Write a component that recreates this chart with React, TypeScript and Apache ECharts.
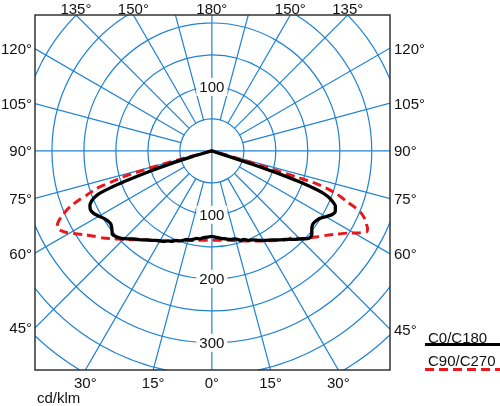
import { useEffect, useRef } from 'react';
import * as echarts from 'echarts';

// ---- grid definition (cd/klm and degrees) ----
const circleRadii = [50, 100, 150, 200, 250, 300, 350, 400, 450];
const spokeAngles = [0, 15, 30, 45, 60, 75, 90, 105, 120, 135, 150, 165, 180, 195, 210, 225, 240, 255, 270, 285, 300, 315, 330, 345];
const upperRadialLabels = [100];
const lowerRadialLabels = [100, 200, 300];
const leftAngleLabels = [120, 105, 90, 75, 60, 45];
const rightAngleLabels = [120, 105, 90, 75, 60, 45];
const topAngleLabelsLeft = [135, 150];
const topAngleLabelsCenter = [180];
const topAngleLabelsRight = [150, 135];
const bottomAngleLabelsLeft = [30, 15];
const bottomAngleLabelsCenter = [0];
const bottomAngleLabelsRight = [15, 30];

// ---- photometric data (gamma in degrees, intensity in cd/klm) ----
const c180Gamma = [0, 2, 4, 6, 8, 10, 12, 14, 16, 18, 20, 22, 24, 26, 28, 30, 32, 34, 36, 38, 40, 42, 44, 46, 48, 50, 52, 54, 56, 58, 60, 62, 64, 66, 67.5, 68.5, 69.3, 70, 70.7, 71.4, 72.2, 73, 74, 75, 76];
const c180Intensity = [133.6, 134.5, 135.5, 136.7, 138.8, 138.8, 141.4, 143.3, 143.9, 147, 149.7, 150.8, 154.8, 156.5, 160.2, 162.4, 164.9, 168.7, 171.9, 176.5, 180.5, 185, 191.1, 196.8, 200.8, 203, 198.3, 195, 196, 199, 204, 208.8, 211, 208.7, 203, 196.5, 187, 170, 145, 118, 88, 60, 32, 8, 0];

const c0Gamma = [0, 3, 6, 9, 12, 15, 18, 20, 22, 25, 28, 31, 34, 37, 40, 43, 46, 48, 50, 52, 54, 56, 58, 60, 62, 64, 66, 67.5, 68.5, 69.3, 70, 70.6, 71.1, 71.5, 71.8, 72.1, 72.4, 72.6];
const c0Intensity = [133.6, 135.3, 137.5, 139.2, 141.4, 142.3, 147, 147.2, 150.8, 153.4, 158.4, 163.1, 167.7, 174.1, 180.5, 189.1, 197.9, 204.3, 204, 198.3, 195, 196, 199, 205.7, 212.4, 214.7, 211.3, 203, 194.8, 185.3, 168, 145, 118, 90, 60, 30, 5, 0];

const c90Gamma = [0, 10, 20, 30, 36, 40, 42.6, 46, 50.1, 53.5, 56.6, 58.8, 60.7, 62.4, 63.5, 64.5, 66, 67.5, 68.5, 69.3, 70.3, 71.2, 72, 72.6, 72.9, 73.1, 73.4, 73.7, 74];
const c90Intensity = [139.8, 142, 149.7, 162.4, 172.9, 181.5, 185, 197, 210, 222, 236, 248, 262, 273, 272, 268, 262, 252, 240, 227, 215, 203, 188, 170, 140, 104, 70, 35, 0];

const c270Gamma = [0, 10, 20, 30, 38, 43.7, 48, 51.4, 54.5, 57, 59, 60.5, 62.5, 64, 65.3, 67, 68.5, 69.7, 70.6, 71.5, 72.2, 72.8, 73.8, 74.4, 74.8, 75.3, 76];
const c270Intensity = [139.8, 142, 149.5, 162, 176, 192, 205, 218, 229, 240, 251, 260, 268, 269, 264, 252, 238, 222, 207, 195, 184, 165, 140, 110, 80, 45, 0];

const GRID_COLOR = '#1f82d2';
const TEXT_COLOR = '#111';
const FONT = '"Liberation Sans", Arial, sans-serif';
const RED = '#e8191e';

const rad = (d: number) => (d * Math.PI) / 180;
const toXY = (g: number, i: number, side: number) => [side * i * Math.sin(rad(g)), -i * Math.cos(rad(g))];

function halfPath(gammas: number[], vals: number[], side: number, reverse: boolean) {
  const pts = gammas.map((g, k) => toXY(g, vals[k], side));
  return reverse ? pts.reverse() : pts;
}

export default function App() {
  const ref = useRef<HTMLDivElement>(null);
  useEffect(() => {
    if (!ref.current) return;
    const chart = echarts.init(ref.current, null, { renderer: 'svg' });

    const blackData = [...halfPath(c180Gamma, c180Intensity, -1, true), ...halfPath(c0Gamma, c0Intensity, 1, false)];
    const redData = [...halfPath(c270Gamma, c270Intensity, -1, true), ...halfPath(c90Gamma, c90Intensity, 1, false)];

    // edge codes: 0 left, 1 right, 2 top, 3 bottom
    const angleLabelData: number[][] = [
      ...leftAngleLabels.map((g) => [g, -1, 0]),
      ...rightAngleLabels.map((g) => [g, 1, 1]),
      ...topAngleLabelsLeft.map((g) => [g, -1, 2]),
      ...topAngleLabelsCenter.map((g) => [g, 0, 2]),
      ...topAngleLabelsRight.map((g) => [g, 1, 2]),
      ...bottomAngleLabelsLeft.map((g) => [g, -1, 3]),
      ...bottomAngleLabelsCenter.map((g) => [g, 0, 3]),
      ...bottomAngleLabelsRight.map((g) => [g, 1, 3]),
    ];

    const radialLabelData: number[][] = [
      ...upperRadialLabels.map((v) => [v, 180]),
      ...lowerRadialLabels.map((v) => [v, 0]),
    ];

    const option: any = {
      animation: false,
      grid: { left: 35, top: 15, width: 355, height: 355, show: false },
      xAxis: { type: 'value', min: -276.5, max: 278.5, show: false },
      yAxis: { type: 'value', min: -342.5, max: 212.5, show: false },
      series: [
        {
          type: 'custom',
          name: 'circles',
          coordinateSystem: 'cartesian2d',
          clip: true,
          silent: true,
          z: 1,
          data: circleRadii.map((r) => [r, 0]),
          renderItem: (params: any, api: any) => {
            const c = api.coord([0, 0]);
            const r = api.size([api.value(0), 0])[0];
            return {
              type: 'circle',
              shape: { cx: c[0], cy: c[1], r },
              style: { fill: 'none', stroke: GRID_COLOR, lineWidth: 1.2 },
            };
          },
        },
        {
          type: 'custom',
          name: 'spokes',
          coordinateSystem: 'cartesian2d',
          clip: true,
          silent: true,
          z: 1,
          data: spokeAngles.map((a) => [a, 0]),
          renderItem: (params: any, api: any) => {
            const a = api.value(0);
            const r0 = a % 90 === 0 ? 0 : circleRadii[0];
            const r1 = 900;
            const p0 = api.coord([r0 * Math.sin(rad(a)), -r0 * Math.cos(rad(a))]);
            const p1 = api.coord([r1 * Math.sin(rad(a)), -r1 * Math.cos(rad(a))]);
            return {
              type: 'line',
              shape: { x1: p0[0], y1: p0[1], x2: p1[0], y2: p1[1] },
              style: { stroke: GRID_COLOR, lineWidth: 1.2 },
            };
          },
        },
        {
          type: 'custom',
          name: 'radialLabels',
          coordinateSystem: 'cartesian2d',
          clip: true,
          silent: true,
          z: 2,
          data: radialLabelData,
          renderItem: (params: any, api: any) => {
            const v = api.value(0);
            const g = api.value(1);
            const p = api.coord([v * Math.sin(rad(g)), -v * Math.cos(rad(g))]);
            return {
              type: 'text',
              x: p[0],
              y: p[1],
              style: {
                text: String(v),
                fill: TEXT_COLOR,
                fontSize: 15,
                fontFamily: FONT,
                align: 'center',
                verticalAlign: 'middle',
                backgroundColor: '#fff',
                padding: [2, 3, 1, 3],
              },
            };
          },
        },
        {
          type: 'custom',
          name: 'angleLabels',
          coordinateSystem: 'cartesian2d',
          clip: false,
          silent: true,
          z: 2,
          data: angleLabelData,
          renderItem: (params: any, api: any) => {
            const g = api.value(0);
            const side = api.value(1);
            const edge = api.value(2);
            const cs = params.coordSys;
            const c = api.coord([0, 0]);
            const s = Math.sin(rad(g));
            const co = Math.cos(rad(g));
            let x = 0;
            let y = 0;
            let align = 'center';
            let va = 'middle';
            if (edge === 0) {
              const t = (c[0] - cs.x) / s;
              x = cs.x - 3;
              y = c[1] + t * co;
              align = 'right';
            } else if (edge === 1) {
              const t = (cs.x + cs.width - c[0]) / s;
              x = cs.x + cs.width + 4;
              y = c[1] + t * co;
              align = 'left';
            } else if (edge === 2) {
              const t = (c[1] - cs.y) / -co;
              x = c[0] + side * t * s;
              y = 0.5;
              va = 'top';
            } else {
              const t = (cs.y + cs.height - c[1]) / co;
              x = c[0] + side * t * s;
              y = cs.y + cs.height + 5;
              va = 'top';
            }
            return {
              type: 'text',
              x,
              y,
              style: {
                text: g + '°',
                fill: TEXT_COLOR,
                fontSize: 15,
                fontFamily: FONT,
                align,
                verticalAlign: va,
              },
            };
          },
        },
        {
          type: 'line',
          name: 'C90/C270',
          data: redData,
          showSymbol: false,
          symbol: 'none',
          smooth: 0.25,
          z: 3,
          lineStyle: { color: RED, width: 3, type: [9, 5], cap: 'butt', join: 'round' },
        },
        {
          type: 'line',
          name: 'C0/C180',
          data: blackData,
          showSymbol: false,
          symbol: 'none',
          smooth: 0.2,
          z: 4,
          lineStyle: { color: '#000', width: 3.3, join: 'round', cap: 'round' },
        },
      ],
      graphic: [
        {
          type: 'rect',
          z: 100,
          silent: true,
          shape: { x: 35, y: 15, width: 355, height: 355 },
          style: { fill: 'none', stroke: '#333', lineWidth: 1.5 },
        },
        {
          type: 'text',
          z: 100,
          x: 428,
          y: 337.5,
          style: { text: 'C0/C180', fill: TEXT_COLOR, fontSize: 15, fontFamily: FONT, align: 'left', verticalAlign: 'middle', textAlign: 'left', textVerticalAlign: 'middle' },
        },
        {
          type: 'line',
          z: 100,
          shape: { x1: 425, y1: 344.5, x2: 500, y2: 344.5 },
          style: { stroke: '#000', lineWidth: 3 },
        },
        {
          type: 'text',
          z: 100,
          x: 428,
          y: 360.5,
          style: { text: 'C90/C270', fill: TEXT_COLOR, fontSize: 15, fontFamily: FONT, align: 'left', verticalAlign: 'middle', textAlign: 'left', textVerticalAlign: 'middle' },
        },
        {
          type: 'line',
          z: 100,
          shape: { x1: 425, y1: 369.5, x2: 500, y2: 369.5 },
          style: { stroke: RED, lineWidth: 3, lineDash: [9, 5] },
        },
        {
          type: 'text',
          z: 100,
          x: 37,
          y: 397.5,
          style: { text: 'cd/klm', fill: TEXT_COLOR, fontSize: 15, fontFamily: FONT, align: 'left', verticalAlign: 'middle', textAlign: 'left', textVerticalAlign: 'middle' },
        },
      ],
    };

    chart.setOption(option);
    return () => chart.dispose();
  }, []);

  return <div ref={ref} style={{ position: 'fixed', left: 0, top: 0, width: 500, height: 406 }} />;
}
